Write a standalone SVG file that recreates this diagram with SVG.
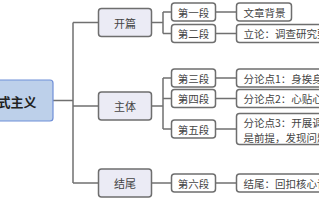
<svg xmlns="http://www.w3.org/2000/svg" width="319" height="200" viewBox="0 0 319 200">
<style>
text{font-family:"Noto Sans CJK SC","Noto Sans",sans-serif;fill:#444;dominant-baseline:central}
.root rect{fill:#bdd0ea;stroke:#6f8fd8;stroke-width:1.2}
.root text{font-size:13px;font-weight:bold;fill:#222}
.l1 rect{fill:#ebebf5;stroke:#6e6e6e;stroke-width:1.5}
.l1 text{font-size:11px;text-anchor:middle}
.l2 rect{fill:#fff;stroke:#6e6e6e;stroke-width:1.5}
.l2 text{font-size:10.5px;text-anchor:middle}
.l3 rect{fill:#fff;stroke:#6e6e6e;stroke-width:1.5}
.l3 text{font-size:10.5px}
#connectors path{fill:none;stroke:#707070;stroke-width:1.5}
</style>
<g id="connectors">
<path d="M53 100.5H73M73 22.5V183M73 22.5H98.5M73 106H98.5M73 183H98.5"/>
<path d="M151.5 22.5H163M163 12V33.5M163 12H171.5M163 33.5H171.5"/>
<path d="M151.5 106H163M163 78V129M163 78H171.5M163 98.5H171.5M163 129H171.5"/>
<path d="M151.5 183H171.5"/>
<path d="M215.5 12H236.5M215.5 33.5H236.5M215.5 78H236.5M215.5 98.5H236.5M215.5 129H236.5M215.5 183H236.5"/>
</g>
<g id="root" class="root"><rect x="-10" y="80" width="63" height="41" rx="3"/><text x="36.5" y="101" text-anchor="end">式主义</text></g>
<g id="kaipian" class="l1"><rect x="98.5" y="8.5" width="53" height="28" rx="3"/><text x="125" y="22.5">开篇</text></g>
<g id="zhuti" class="l1"><rect x="98.5" y="92" width="53" height="28" rx="3"/><text x="125" y="106">主体</text></g>
<g id="jiewei" class="l1"><rect x="98.5" y="169" width="53" height="28" rx="3"/><text x="125" y="183">结尾</text></g>
<g id="d1" class="l2"><rect x="171.5" y="3" width="44" height="18" rx="3"/><text x="193.5" y="12">第一段</text></g>
<g id="d2" class="l2"><rect x="171.5" y="24.5" width="44" height="18" rx="3"/><text x="193.5" y="33.5">第二段</text></g>
<g id="d3" class="l2"><rect x="171.5" y="69" width="44" height="18" rx="3"/><text x="193.5" y="78">第三段</text></g>
<g id="d4" class="l2"><rect x="171.5" y="89.5" width="44" height="18" rx="3"/><text x="193.5" y="98.5">第四段</text></g>
<g id="d5" class="l2"><rect x="171.5" y="120" width="44" height="18" rx="3"/><text x="193.5" y="129">第五段</text></g>
<g id="d6" class="l2"><rect x="171.5" y="174" width="44" height="18" rx="3"/><text x="193.5" y="183">第六段</text></g>
<g id="t1" class="l3"><rect x="236.5" y="3" width="55" height="18" rx="3"/><text x="243.5" y="12">文章背景</text></g>
<g id="t2" class="l3"><rect x="236.5" y="24.5" width="100" height="18" rx="3"/><text x="243.5" y="33.5">立论：调查研究要</text></g>
<g id="t3" class="l3"><rect x="236.5" y="69" width="100" height="18" rx="3"/><text x="243.5" y="78">分论点1：身挨身</text></g>
<g id="t4" class="l3"><rect x="236.5" y="89.5" width="100" height="18" rx="3"/><text x="243.5" y="98.5">分论点2：心贴心</text></g>
<g id="t5" class="l3"><rect x="236.5" y="113.5" width="100" height="31" rx="3"/><text x="243.5" y="122.5">分论点3：开展调研</text><text x="243.5" y="137">是前提，发现问题</text></g>
<g id="t6" class="l3"><rect x="236.5" y="174" width="100" height="18" rx="3"/><text x="243.5" y="183">结尾：回扣核心论</text></g>
</svg>
